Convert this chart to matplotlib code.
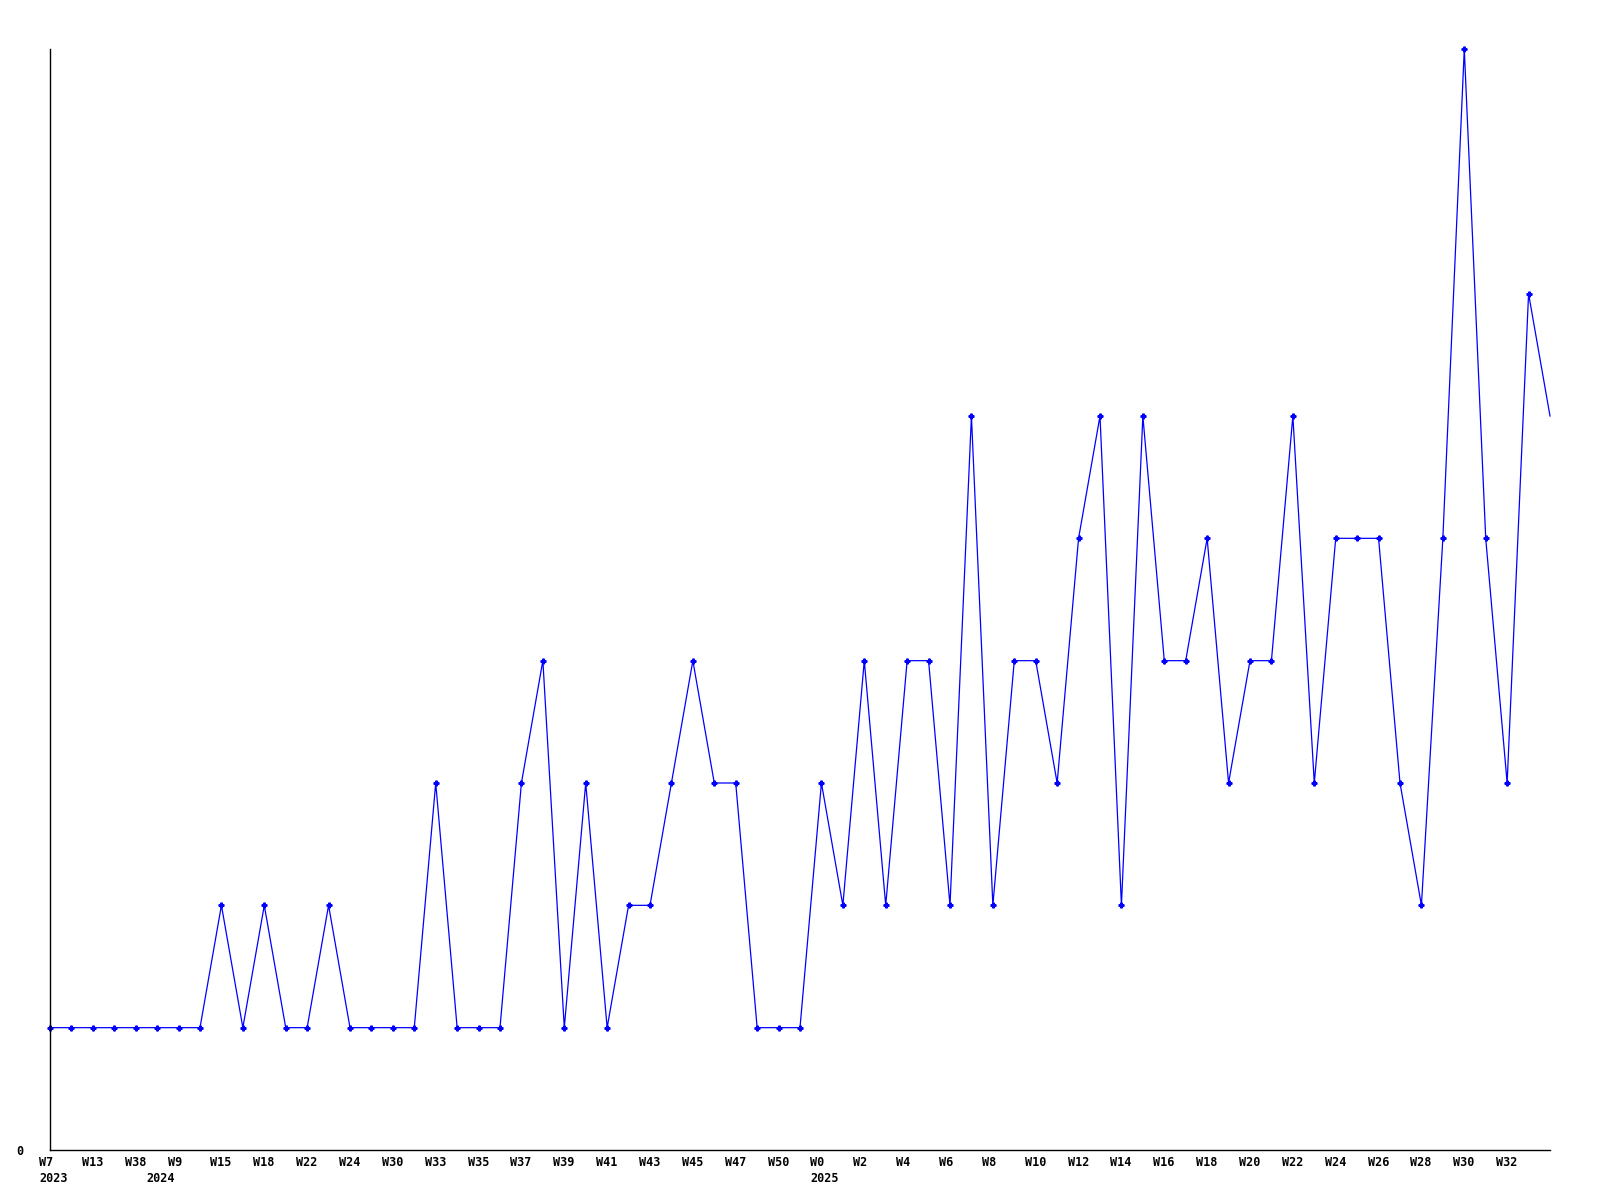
import matplotlib
matplotlib.use("Agg")
import matplotlib.pyplot as plt
import matplotlib.transforms as mtransforms

# valores semanales (71 puntos)
valores = [1, 1, 1, 1, 1, 1, 1, 1, 2, 1,
           2, 1, 1, 2, 1, 1, 1, 1, 3, 1,
           1, 1, 3, 4, 1, 3, 1, 2, 2, 3,
           4, 3, 3, 1, 1, 1, 3, 2, 4, 2,
           4, 4, 2, 6, 2, 4, 4, 3, 5, 6,
           2, 6, 4, 4, 5, 3, 4, 4, 6, 3,
           5, 5, 5, 3, 2, 5, 9, 5, 3, 7,
           6]

# etiquetas de semana, una cada dos puntos
semanas = ["W7", "W13", "W38", "W9", "W15", "W18", "W22", "W24", "W30", "W33",
           "W35", "W37", "W39", "W41", "W43", "W45", "W47", "W50", "W0", "W2",
           "W4", "W6", "W8", "W10", "W12", "W14", "W16", "W18", "W20", "W22",
           "W24", "W26", "W28", "W30", "W32"]

# años y el índice del primer punto de cada uno
anios = ["2023", "2024", "2025"]
inicio_anio = [0, 5, 36]

plt.rcParams['font.family'] = ['DejaVu Sans Mono']
plt.rcParams['font.weight'] = 'bold'

fig = plt.figure(figsize=(16, 12), dpi=100)
ax = fig.add_axes([50 / 1600, 50 / 1200, 1500 / 1600, 1101 / 1200])

x = list(range(len(valores)))
ax.plot(x, valores, color='#0000ff', lw=0.9, marker='P', ms=3.5,
        markevery=list(range(len(valores) - 1)), clip_on=False)

ax.set_xlim(0, len(valores) - 1)
ax.set_ylim(0, 9)

for s in ['top', 'right']:
    ax.spines[s].set_visible(False)
for s in ['left', 'bottom']:
    ax.spines[s].set_linewidth(1.0)

ax.set_yticks([0])
ax.set_yticklabels(["0"], fontsize=8.5)
ax.tick_params(axis='y', length=0, pad=19)

ax.set_xticks(x[0:len(semanas) * 2:2])
ax.set_xticklabels(semanas, fontsize=8.5)
ax.tick_params(axis='x', length=0, pad=4)
desplazar = mtransforms.ScaledTranslation(-11 / 100, 0, fig.dpi_scale_trans)
for lab in ax.get_xticklabels():
    lab.set_ha('left')
    lab.set_transform(lab.get_transform() + desplazar)

for a, i in zip(anios, inicio_anio):
    ax.annotate(a, xy=(i, 0), xycoords=('data', 'axes fraction'),
                xytext=(-11, -22), textcoords='offset pixels',
                ha='left', va='top', fontsize=8.5)

fig.savefig("out.png", dpi=100)
